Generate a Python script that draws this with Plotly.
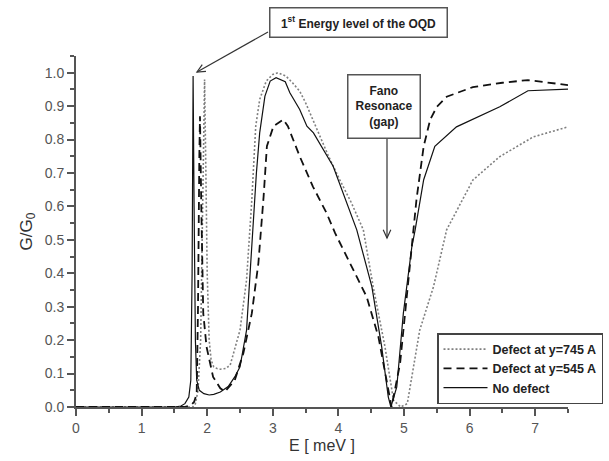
import math
import plotly.graph_objects as go

# ---- data ----
x_745 = [0, 1.78, 1.82, 1.86, 1.90, 1.93, 1.96, 1.98, 2.0, 2.03, 2.06, 2.1, 2.15, 2.2, 2.28, 2.35,
         2.5, 2.6, 2.68, 2.74, 2.80, 2.9, 3.0, 3.08, 3.2, 3.3, 3.41, 3.5, 3.67, 3.85, 4.02, 4.2,
         4.38, 4.53, 4.63, 4.71, 4.84, 4.95, 5.05, 5.24, 5.45, 5.65, 6.05, 6.46, 6.97, 7.5]
y_745 = [0, 0, 0.01, 0.05, 0.2, 0.6, 0.98, 0.7, 0.4, 0.2, 0.14, 0.12, 0.115, 0.113, 0.115, 0.125,
         0.23, 0.38, 0.62, 0.84, 0.92, 0.975, 0.995, 1.0, 0.99, 0.97, 0.945, 0.91, 0.83, 0.75, 0.68, 0.61,
         0.53, 0.36, 0.26, 0.18, 0.02, 0.0, 0.01, 0.23, 0.36, 0.53, 0.679, 0.749, 0.808, 0.838]

x_545 = [0, 1.65, 1.75, 1.80, 1.84, 1.86, 1.88, 1.89, 1.91, 1.94, 1.99, 2.09, 2.2, 2.27, 2.42, 2.55,
         2.68, 2.78, 2.86, 2.91, 3.01, 3.16, 3.23, 3.41, 3.61, 3.82, 3.95, 4.18, 4.43, 4.61, 4.74,
         4.81, 4.94, 5.04, 5.14, 5.19, 5.3, 5.4, 5.5, 5.65, 6.05, 6.5, 6.89, 7.5]
y_545 = [0, 0, 0.005, 0.015, 0.04, 0.3, 0.75, 0.87, 0.6, 0.28, 0.18, 0.09, 0.056, 0.046, 0.08, 0.16,
         0.28, 0.43, 0.63, 0.78, 0.84, 0.86, 0.84, 0.75, 0.66, 0.58, 0.52, 0.43, 0.33, 0.21, 0.08,
         0.0, 0.13, 0.33, 0.53, 0.62, 0.78, 0.86, 0.898, 0.928, 0.957, 0.97, 0.978, 0.963]

x_none = [0, 1.5, 1.6, 1.66, 1.72, 1.75, 1.77, 1.785, 1.80, 1.82, 1.84, 1.88, 1.95, 2.03, 2.1, 2.2,
          2.32, 2.42, 2.5, 2.6, 2.66, 2.71, 2.75, 2.80, 2.88, 2.96, 3.05, 3.19, 3.26, 3.41, 3.47,
          3.52, 3.62, 3.92, 4.28, 4.51, 4.66, 4.76, 4.80, 4.89, 4.99, 5.12, 5.17, 5.3, 5.47, 5.8,
          6.46, 6.89, 7.5]
y_none = [0, 0, 0.003, 0.01, 0.03, 0.08, 0.4, 0.99, 0.6, 0.2, 0.08, 0.05, 0.04, 0.036, 0.038, 0.045,
          0.061, 0.09, 0.12, 0.23, 0.42, 0.58, 0.70, 0.82, 0.93, 0.975, 0.985, 0.973, 0.94, 0.89, 0.86,
          0.84, 0.82, 0.72, 0.53, 0.36, 0.18, 0.03, 0.0, 0.06, 0.28, 0.48, 0.53, 0.68, 0.78, 0.838,
          0.898, 0.946, 0.951]

names = ["Defect at y=745 A", "Defect at y=545 A", "No defect"]
x_ticks = [0, 1, 2, 3, 4, 5, 6, 7]
y_ticks = [0.0, 0.1, 0.2, 0.3, 0.4, 0.5, 0.6, 0.7, 0.8, 0.9, 1.0]
y_tick_labels = ["0.0", "0.1", "0.2", "0.3", "0.4", "0.5", "0.6", "0.7", "0.8", "0.9", "1.0"]

FONT = "Arial, Liberation Sans, sans-serif"
W, H = 609, 461
ML, MR, MT, MB = 76, 41, 56, 54
PW, PH = W - ML - MR, H - MT - MB


def px(xp):
    return (xp - ML) / PW


def py(yp):
    return (H - MB - yp) / PH


fig = go.Figure()
fig.add_trace(go.Scatter(x=x_745, y=y_745, mode="lines", name=names[0],
                         line=dict(color="#808080", width=1.6, dash="2px,2px")))
fig.add_trace(go.Scatter(x=x_545, y=y_545, mode="lines", name=names[1],
                         line=dict(color="#111111", width=1.8, dash="8px,5px")))
fig.add_trace(go.Scatter(x=x_none, y=y_none, mode="lines", name=names[2],
                         line=dict(color="#111111", width=1.2)))

axis_common = dict(
    showgrid=False, zeroline=False, showline=True, linecolor="#555555", linewidth=2,
    ticks="outside", ticklen=7, tickwidth=2, tickcolor="#555555",
    tickfont=dict(family=FONT, size=14, color="#555555"),
)

fig.update_layout(
    width=W, height=H,
    margin=dict(l=ML, r=MR, t=MT, b=MB, autoexpand=False),
    plot_bgcolor="white", paper_bgcolor="white",
    font=dict(family=FONT, color="#333333"),
    xaxis=dict(range=[0, 7.5], tickvals=x_ticks, automargin=False,
               minor=dict(dtick=0.5, ticks="outside", ticklen=4, tickwidth=1.5, tickcolor="#555555"),
               title=dict(text="E [ meV ]", font=dict(family=FONT, size=16, color="#333333"), standoff=5),
               **axis_common),
    yaxis=dict(range=[0, 1.05], tickvals=y_ticks, ticktext=y_tick_labels, automargin=False,
               minor=dict(dtick=0.05, ticks="outside", ticklen=4, tickwidth=1.5, tickcolor="#555555"),
               title=dict(text="G/G<sub>0</sub>", font=dict(family=FONT, size=17, color="#333333"), standoff=8),
               **axis_common),
    legend=dict(x=px(603), y=py(404), xanchor="right", yanchor="bottom",
                bgcolor="white", bordercolor="#444444", borderwidth=1.5,
                font=dict(family=FONT, size=12.5, color="#222222", weight="bold"),
                itemwidth=44, tracegroupgap=0),
    showlegend=True,
)

# annotation boxes
fig.add_annotation(xref="paper", yref="paper", x=px(358), y=py(23),
                   xanchor="center", yanchor="middle",
                   text="1<sup>st</sup> Energy level of the OQD", showarrow=False,
                   font=dict(family=FONT, size=12, color="#222222", weight="bold"),
                   bordercolor="#555555", borderwidth=1.5, borderpad=4, bgcolor="white",
                   width=168, height=20)
fig.add_annotation(xref="paper", yref="paper", x=px(384), y=py(106),
                   xanchor="center", yanchor="middle",
                   text="Fano<br>Resonace<br>(gap)", showarrow=False,
                   font=dict(family=FONT, size=12, color="#222222", weight="bold"),
                   bordercolor="#555555", borderwidth=1.5, borderpad=4, bgcolor="white",
                   width=63, height=54)


# arrows drawn as shapes (shaft + open head), pixel positions of the reference
def arrow(x0, y0, x1, y1, head=9, ang=25):
    dx, dy = x0 - x1, y0 - y1
    L = math.hypot(dx, dy)
    ux, uy = dx / L, dy / L
    pts = []
    for s in (1, -1):
        a = math.radians(ang) * s
        rx = ux * math.cos(a) - uy * math.sin(a)
        ry = ux * math.sin(a) + uy * math.cos(a)
        pts.append((x1 + head * rx, y1 + head * ry))
    fig.add_shape(type="line", xref="paper", yref="paper",
                  x0=px(x0), y0=py(y0), x1=px(x1), y1=py(y1),
                  line=dict(color="#333333", width=1.2))
    path = "M {} {} L {} {} L {} {}".format(px(pts[0][0]), py(pts[0][1]), px(x1), py(y1),
                                           px(pts[1][0]), py(pts[1][1]))
    fig.add_shape(type="path", xref="paper", yref="paper", path=path,
                  line=dict(color="#333333", width=1.2))


arrow(268, 32, 197, 72)
arrow(387, 138, 387, 238)

fig.write_html("out.html", config={"displayModeBar": False},
               post_script="document.body.style.margin='0';document.body.style.padding='0';")
